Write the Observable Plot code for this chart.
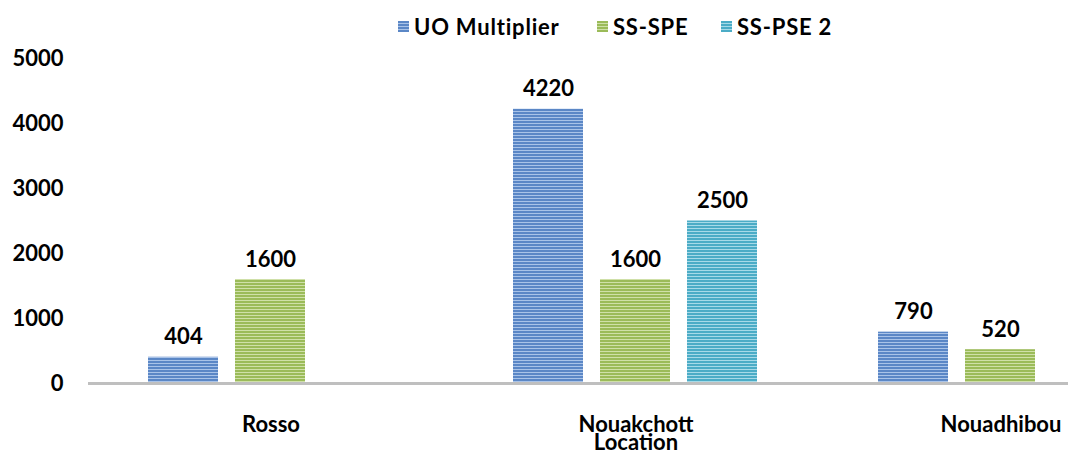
<!DOCTYPE html>
<html>
<head>
<meta charset="utf-8">
<script src="https://cdn.jsdelivr.net/npm/d3@7"></script>
<script src="https://cdn.jsdelivr.net/npm/@observablehq/plot@0.6"></script>
<style>
  html, body { margin: 0; padding: 0; background: #fff; overflow: hidden; }
  #wrap { position: relative; width: 1068px; height: 450px; font-family: Lato, "Open Sans", sans-serif; }
  #legend { position: absolute; top: 12px; left: 0; width: 1068px; height: 28px; }
  .item { position: absolute; top: 0; display: flex; align-items: center; font-weight: bold; font-size: 22px; letter-spacing: 0.8px; color: #000; height: 28px; white-space: nowrap; }
  .sw { width: 11px; height: 11px; margin-right: 5px; }
</style>
</head>
<body>
<div id="wrap"><div id="legend"></div></div>
<script>
const cities = ["Rosso", "Nouakchott", "Nouadhibou"];
const seriesNames = ["UO Multiplier", "SS-SPE", "SS-PSE 2"];
const uoMultiplier = [404, 4220, 790];
const ssSpe = [1600, 1600, 520];
const ssPse2 = [null, 2500, null];
const yTicks = [0, 1000, 2000, 3000, 4000, 5000];

const colors = ["#5B87C6", "#9BBB59", "#4BACC6"];
const lights = ["#A9C3E8", "#CFE0A8", "#A6DAE8"];
const patIds = ["patUO", "patSPE", "patPSE"];

const table = [];
[uoMultiplier, ssSpe, ssPse2].forEach((vals, si) => {
  vals.forEach((v, ci) => {
    if (v != null) table.push({city: cities[ci], series: seriesNames[si], value: v});
  });
});

const fillOf = new Map(seriesNames.map((s, i) => [s, `url(#${patIds[i]})`]));

const chart = Plot.plot({
  width: 1068,
  height: 450,
  marginTop: 58,
  marginBottom: 67,
  marginLeft: 90,
  marginRight: 0,
  style: {fontFamily: "Lato, 'Open Sans', sans-serif", fontWeight: "bold", fontSize: "22px", color: "#000", background: "#fff", overflow: "visible"},
  fx: {domain: cities, range: [88, 1183], padding: 0, label: "Location", labelAnchor: "center", labelOffset: 66, tickSize: 0, tickPadding: 33},
  x: {domain: seriesNames, paddingInner: 0.19, paddingOuter: 0.68, axis: null},
  y: {domain: [0, 5000], ticks: yTicks, tickFormat: d => String(d), tickSize: 0, tickPadding: 25, label: null},
  marks: [
    Plot.barY(table, {fx: "city", x: "series", y: "value", fill: d => fillOf.get(d.series)}),
    Plot.text(table, {fx: "city", x: "series", y: "value", text: d => String(d.value), lineAnchor: "bottom", dy: -13, fontSize: 22, fontWeight: "bold", fill: "#000"}),
    Plot.ruleY([0], {stroke: "#BFBFBF", strokeWidth: 3})
  ]
});

// stripe patterns
const ns = "http://www.w3.org/2000/svg";
const defs = document.createElementNS(ns, "defs");
patIds.forEach((id, i) => {
  const p = document.createElementNS(ns, "pattern");
  p.setAttribute("id", id);
  p.setAttribute("patternUnits", "userSpaceOnUse");
  p.setAttribute("width", "8");
  p.setAttribute("height", "3");
  const r1 = document.createElementNS(ns, "rect");
  r1.setAttribute("width", "8"); r1.setAttribute("height", "3"); r1.setAttribute("fill", colors[i]);
  const r2 = document.createElementNS(ns, "rect");
  r2.setAttribute("width", "8"); r2.setAttribute("height", "1"); r2.setAttribute("fill", lights[i]);
  p.appendChild(r1); p.appendChild(r2);
  defs.appendChild(p);
});
chart.insertBefore(defs, chart.firstChild);
document.getElementById("wrap").appendChild(chart);

// legend
const legendPos = [398, 597, 721];
const legend = document.getElementById("legend");
seriesNames.forEach((s, i) => {
  const it = document.createElement("div");
  it.className = "item";
  it.style.left = legendPos[i] + "px";
  const sw = document.createElement("div");
  sw.className = "sw";
  sw.style.background = `url(#${patIds[i]})`;
  sw.style.background = `repeating-linear-gradient(${colors[i]} 0 2px, ${lights[i]} 2px 3px)`;
  it.appendChild(sw);
  it.appendChild(document.createTextNode(s));
  legend.appendChild(it);
});
legend.style.zIndex = 2;
</script>
</body>
</html>
